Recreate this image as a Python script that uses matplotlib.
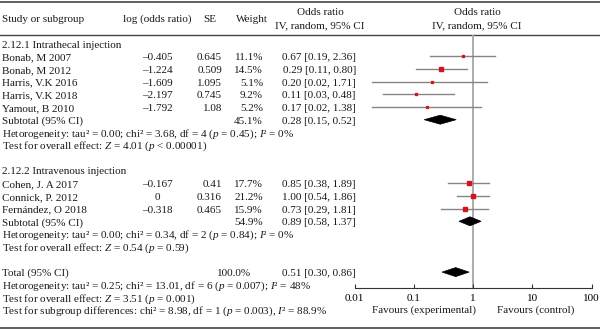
import matplotlib
matplotlib.use("Agg")
import matplotlib.pyplot as plt
from matplotlib.patches import Polygon

plt.rcParams['font.family'] = ['Liberation Serif', 'DejaVu Serif']
plt.rcParams['mathtext.fontset'] = 'custom'
plt.rcParams['mathtext.rm'] = 'Liberation Serif'
plt.rcParams['mathtext.it'] = 'Liberation Serif:italic'
FS = 8

# ---------------- data ----------------
studies_1 = ["Bonab, M 2007", "Bonab, M 2012", "Harris, V.K 2016", "Harris, V.K 2018", "Yamout, B 2010"]
log_or_1 = [-0.405, -1.224, -1.609, -2.197, -1.792]
se_1 = ["0.645", "0.509", "1.095", "0.745", "1.08"]
weight_1 = [11.1, 14.5, 5.1, 9.2, 5.2]
or_1 = [0.67, 0.29, 0.20, 0.11, 0.17]
lo_1 = [0.19, 0.11, 0.02, 0.03, 0.02]
hi_1 = [2.36, 0.80, 1.71, 0.48, 1.38]

studies_2 = ["Cohen, J. A 2017", "Connick, P. 2012", "Fernández, O 2018"]
log_or_2 = [-0.167, 0, -0.318]
se_2 = ["0.41", "0.316", "0.465"]
weight_2 = [17.7, 21.2, 15.9]
or_2 = [0.85, 1.00, 0.73]
lo_2 = [0.38, 0.54, 0.29]
hi_2 = [1.89, 1.86, 1.81]

sub_1 = [0.28, 0.15, 0.52]
sub_1_weight = 45.1
sub_2 = [0.89, 0.58, 1.37]
sub_2_weight = 54.9
total = [0.51, 0.30, 0.86]
total_weight = 100.0

het_1 = "Hetorogeneity: tau² = 0.00; chi² = 3.68, df = 4 ($p$ = 0.45); $I$² = 0%"
test_1 = "Test for overall effect: $Z$ = 4.01 ($p$ < 0.00001)"
het_2 = "Hetorogeneity: tau² = 0.00; chi² = 0.34, df = 2 ($p$ = 0.84); $I$² = 0%"
test_2 = "Test for overall effect: $Z$ = 0.54 ($p$ = 0.59)"
het_t = "Hetorogeneity: tau² = 0.25; chi² = 13.01, df = 6 ($p$ = 0.007); $I$² = 48%"
test_t = "Test for overall effect: $Z$ = 3.51 ($p$ = 0.001)"
test_sub = "Test for subgroup differences: chi² = 8.98, df = 1 ($p$ = 0.003), $I$² = 88.9%"

x_ticks = [0.01, 0.1, 1, 10, 100]
x_tick_labels = ["0.01", "0.1", "1", "10", "100"]

# ---------------- layout ----------------
W, H = 600, 329
fig = plt.figure(figsize=(W / 100, H / 100), dpi=100)
ax = fig.add_axes([0, 0, 1, 1])
ax.set_xlim(0, W)
ax.set_ylim(H, 0)
ax.axis('off')

X0, X1 = 354.5, 591.5
fx = fig.add_axes([X0 / W, 0, (X1 - X0) / W, 1])
fx.set_xscale('log')
fx.set_xlim(0.01, 100)
fx.set_ylim(H, 0)
fx.patch.set_alpha(0)
for s in ['left', 'right', 'top']:
    fx.spines[s].set_visible(False)
AXIS_Y = 288
fx.spines['bottom'].set_position(('data', AXIS_Y))
fx.spines['bottom'].set_color('#333333')
fx.spines['bottom'].set_linewidth(0.8)
fx.set_yticks([])
fx.set_xticks(x_ticks)
fx.set_xticklabels(x_tick_labels, fontsize=FS)
fx.minorticks_off()
fx.tick_params(axis='x', direction='in', length=3, width=0.8, color='#333333', pad=4)

ROW0, DY = 45.0, 12.7
def ry(k):
    return ROW0 + DY * k

def fmt_log(v):
    return "0" if v == 0 else f"{v:.3f}".replace('-', '–')

def txt(x, y, s, ha='left', **kw):
    ax.text(x, y, s, ha=ha, va='center', fontsize=FS, color='#1a1a1a', **kw)

LINE_C = '#444444'
ax.plot([0, W], [1.5, 1.5], color=LINE_C, lw=1.2)
ax.plot([0, W], [35, 35], color=LINE_C, lw=1.0)
ax.plot([0, W], [327.5, 327.5], color=LINE_C, lw=1.2)

# headers
txt(2, 19, "Study or subgroup")
txt(157, 19, "log (odds ratio)", ha='center')
txt(210, 19, "SE", ha='center')
txt(252, 19, "Weight", ha='center')
txt(320, 12.5, "Odds ratio", ha='center')
txt(320, 25.5, "IV, random, 95% CI", ha='center')
txt(477, 12.5, "Odds ratio", ha='center')
txt(477, 25.5, "IV, random, 95% CI", ha='center')

# vertical line of no effect
fx.vlines(1, 35, AXIS_Y, color='#a6a6a6', lw=1.3, zorder=1)

MOFF = -1.5
def study_rows(k0, names, lors, ses, ws, ors, los, his):
    for i, name in enumerate(names):
        y = ry(k0 + i)
        txt(2, y, name)
        txt(157, y, fmt_log(lors[i]), ha='center')
        txt(222, y, ses[i], ha='right')
        txt(263, y, f"{ws[i]:.1f}%", ha='right')
        txt(356, y, f"{ors[i]:.2f} [{los[i]:.2f}, {his[i]:.2f}]", ha='right')
        fx.plot([los[i], his[i]], [y + MOFF, y + MOFF], color='#858585', lw=1.0, zorder=2)
        fx.plot([ors[i]], [y + MOFF], marker='s', ms=0.6 * ws[i] ** 0.5,
                color='#d4141c', mec='#d4141c', lw=0, zorder=3)

def diamond(vals, y, h=4.5):
    est, lo, hi = vals
    yy = y + MOFF
    fx.add_patch(Polygon([[lo, yy], [est, yy - h], [hi, yy], [est, yy + h]],
                         closed=True, facecolor='black', edgecolor='black', lw=0.5, zorder=3))

# group 1
txt(2, ry(0), "2.12.1 Intrathecal injection")
study_rows(1, studies_1, log_or_1, se_1, weight_1, or_1, lo_1, hi_1)
txt(2, ry(6), "Subtotal (95% CI)")
txt(263, ry(6), f"{sub_1_weight:.1f}%", ha='right')
txt(356, ry(6), f"{sub_1[0]:.2f} [{sub_1[1]:.2f}, {sub_1[2]:.2f}]", ha='right')
diamond(sub_1, ry(6))
txt(2, ry(7), het_1)
txt(2, ry(8), test_1)

# group 2
txt(2, ry(10), "2.12.2 Intravenous injection")
study_rows(11, studies_2, log_or_2, se_2, weight_2, or_2, lo_2, hi_2)
txt(2, ry(14), "Subtotal (95% CI)")
txt(263, ry(14), f"{sub_2_weight:.1f}%", ha='right')
txt(356, ry(14), f"{sub_2[0]:.2f} [{sub_2[1]:.2f}, {sub_2[2]:.2f}]", ha='right')
diamond(sub_2, ry(14))
txt(2, ry(15), het_2)
txt(2, ry(16), test_2)

# total
txt(2, ry(18), "Total (95% CI)")
txt(251, ry(18), f"{total_weight:.1f}%", ha='right')
txt(356, ry(18), f"{total[0]:.2f} [{total[1]:.2f}, {total[2]:.2f}]", ha='right')
diamond(total, ry(18))
txt(2, ry(19), het_t)
txt(2, ry(20), test_t)
txt(2, ry(21), test_sub)

txt(423.5, 310, "Favours (experimental)", ha='center')
txt(536, 310, "Favours (control)", ha='center')

fig.savefig("out.png", dpi=100)
